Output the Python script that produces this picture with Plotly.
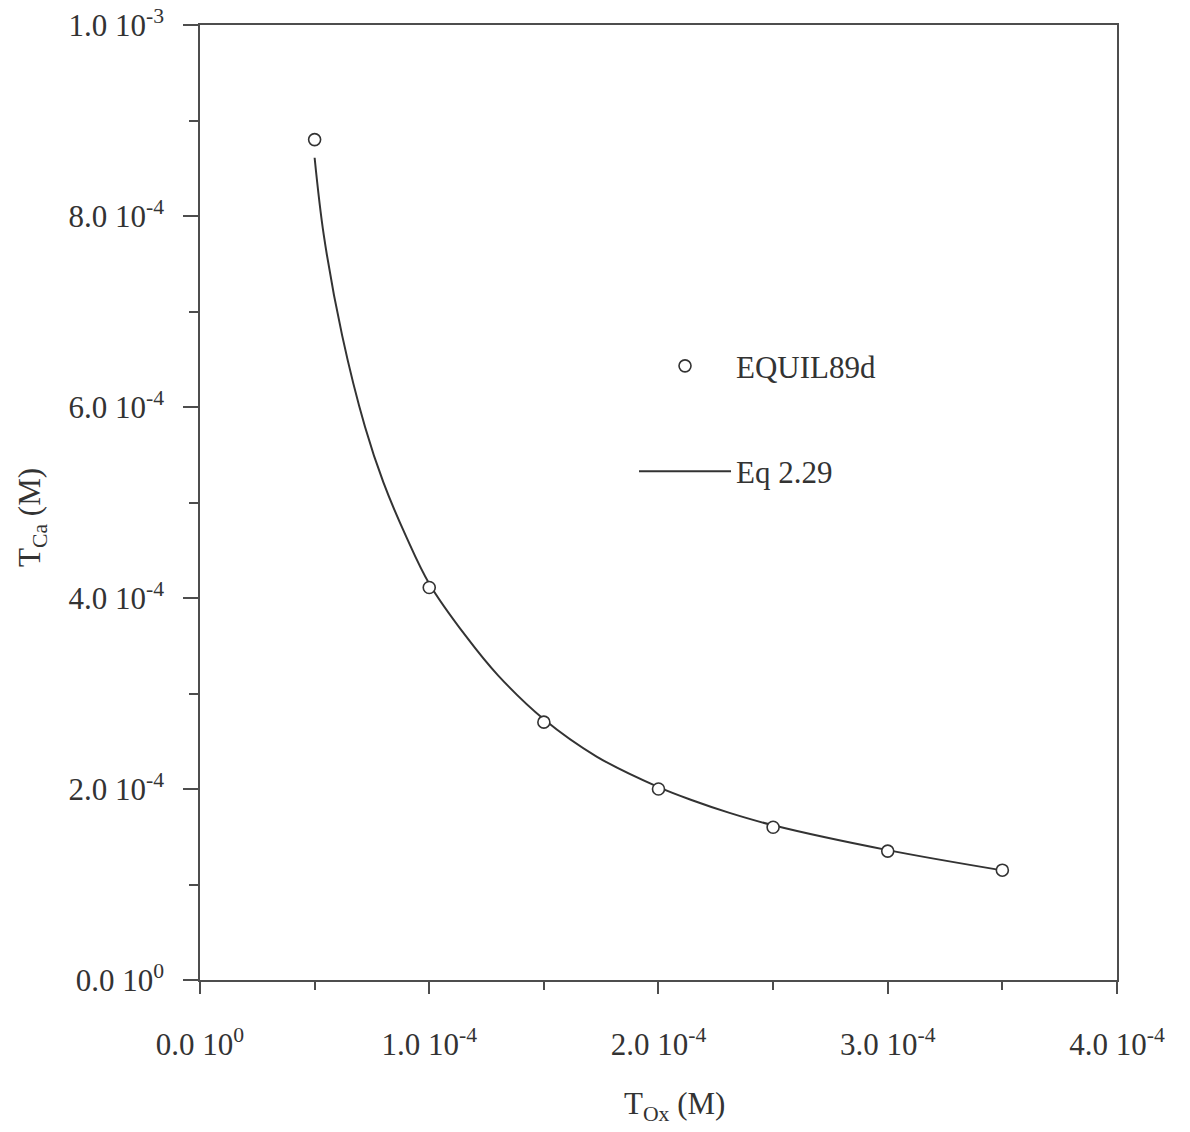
import plotly.graph_objects as go

# Measured points (EQUIL89d)
t_ox_pts = [0.5e-4, 1.0e-4, 1.5e-4, 2.0e-4, 2.5e-4, 3.0e-4, 3.5e-4]
t_ca_pts = [8.80e-4, 4.11e-4, 2.70e-4, 2.00e-4, 1.60e-4, 1.35e-4, 1.15e-4]

# Eq 2.29 curve, sampled along its length
t_ox_curve = [0.50e-4, 0.54e-4, 0.62e-4, 0.72e-4, 0.80e-4, 0.90e-4, 1.00e-4, 1.16e-4,
              1.30e-4, 1.50e-4, 1.73e-4, 2.00e-4, 2.15e-4, 2.31e-4, 2.50e-4, 3.00e-4,
              3.52e-4]
t_ca_curve = [8.61e-4, 7.80e-4, 6.75e-4, 5.79e-4, 5.21e-4, 4.64e-4, 4.15e-4, 3.60e-4,
              3.19e-4, 2.73e-4, 2.34e-4, 2.02e-4, 1.88e-4, 1.75e-4, 1.62e-4, 1.36e-4,
              1.14e-4]

# Axis ticks
x_tickvals = [0, 1e-4, 2e-4, 3e-4, 4e-4]
x_ticktext = ["0.0 10<sup>0</sup>", "1.0 10<sup>-4</sup>", "2.0 10<sup>-4</sup>",
              "3.0 10<sup>-4</sup>", "4.0 10<sup>-4</sup>"]
y_tickvals = [0, 2e-4, 4e-4, 6e-4, 8e-4, 1e-3]
y_ticktext = ["0.0 10<sup>0</sup>", "2.0 10<sup>-4</sup>", "4.0 10<sup>-4</sup>",
              "6.0 10<sup>-4</sup>", "8.0 10<sup>-4</sup>", "1.0 10<sup>-3</sup>"]

INK = "#333333"
AXIS = "#4d4d4d"
FONT = "Liberation Serif"

fig = go.Figure()

fig.add_trace(go.Scatter(
    x=t_ox_curve, y=t_ca_curve, mode="lines", name="Eq 2.29",
    line=dict(color=INK, width=2, shape="spline", smoothing=1.0),
    legendgroup="b", legendrank=2,
))
fig.add_trace(go.Scatter(
    x=t_ox_pts, y=t_ca_pts, mode="markers", name="EQUIL89d",
    marker=dict(symbol="circle", size=12, color="white", line=dict(color=INK, width=1.6)),
    legendgroup="a", legendrank=1,
))

axis_common = dict(
    showline=True, linecolor=AXIS, linewidth=1.6, mirror=True,
    showgrid=False, zeroline=False, ticks="outside", tickcolor=AXIS,
    tickwidth=1.6, tickfont=dict(family=FONT, size=31, color=INK),
    tickmode="array", ticklabeloverflow="allow", automargin=False,
)

fig.update_xaxes(
    range=[0, 4.0001e-4], tickvals=x_tickvals, ticktext=x_ticktext, ticklen=12,
    ticklabelstandoff=24,
    minor=dict(tickvals=[0.5e-4, 1.5e-4, 2.5e-4, 3.5e-4], ticks="outside",
               ticklen=8, tickcolor=AXIS, tickwidth=1.6),
    **axis_common,
)
fig.update_yaxes(
    range=[0, 1.00001e-3], tickvals=y_tickvals, ticktext=y_ticktext, ticklen=15,
    ticklabelstandoff=13,
    minor=dict(tickvals=[1e-4, 3e-4, 5e-4, 7e-4, 9e-4], ticks="outside",
               ticklen=9, tickcolor=AXIS, tickwidth=1.6),
    **axis_common,
)

fig.add_annotation(
    text="T<sub>Ox</sub> (M)", xref="paper", yref="paper", x=0.517, y=-0.132,
    xanchor="center", yanchor="middle", showarrow=False,
    font=dict(family=FONT, size=31, color=INK),
)
fig.add_annotation(
    text="T<sub>Ca</sub> (M)", xref="paper", yref="paper", x=-0.183, y=0.484,
    xanchor="center", yanchor="middle", showarrow=False, textangle=-90,
    font=dict(family=FONT, size=31, color=INK),
)

fig.update_layout(
    width=1190, height=1132,
    margin=dict(l=200, r=73, t=25, b=152),
    paper_bgcolor="white", plot_bgcolor="white",
    showlegend=True,
    legend=dict(
        x=0.4733, y=0.671, xanchor="left", yanchor="top",
        font=dict(family=FONT, size=31, color=INK),
        itemwidth=92, tracegroupgap=62, bgcolor="rgba(0,0,0,0)",
    ),
)

fig.write_html("out.html")
